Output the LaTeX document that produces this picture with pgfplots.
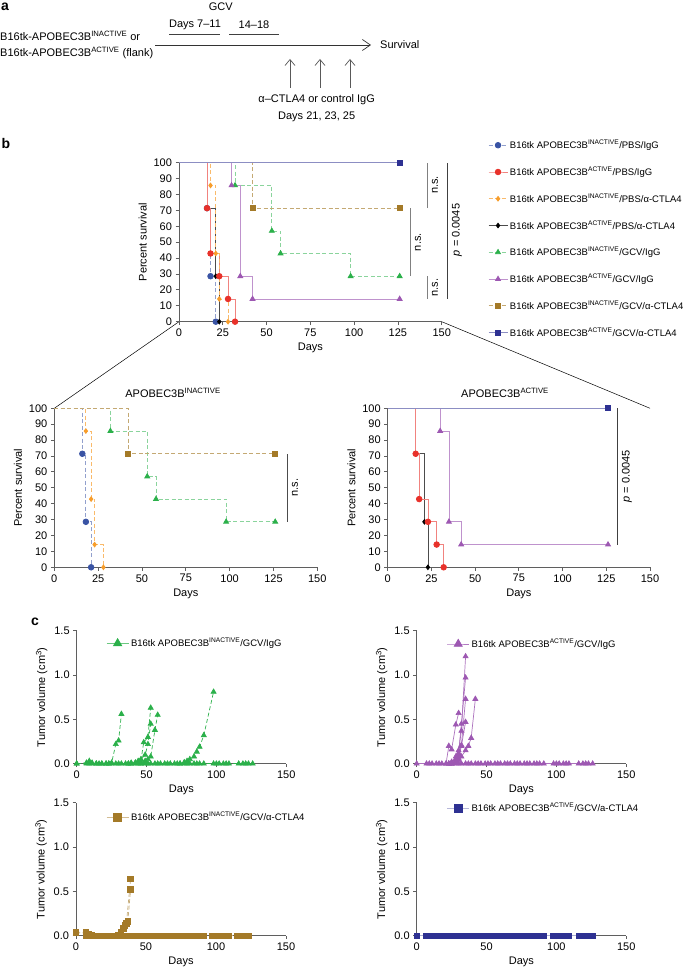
\documentclass[border=0pt]{standalone}
\usepackage{fontspec}
\setmainfont{Liberation Sans}
\usepackage{pgfplots}
\usepackage{pgfplotstable}
\pgfplotsset{compat=1.18}
\usetikzlibrary{arrows.meta}

\definecolor{cBlue}{RGB}{57,83,164}
\definecolor{cRed}{RGB}{232,49,42}
\definecolor{cOrange}{RGB}{247,157,43}
\definecolor{cGreen}{RGB}{43,176,74}
\definecolor{cPurple}{RGB}{157,88,178}
\definecolor{cBrown}{RGB}{164,122,40}
\definecolor{cNavy}{RGB}{46,49,146}
\definecolor{axgray}{RGB}{95,95,95}

\newcommand\fs[1]{\fontsize{#1}{#1}\selectfont}

\pgfplotsset{
  prism/.style={scale only axis, clip=false,
    axis x line*=bottom, axis y line*=left,
    axis line style={axgray, line width=0.8pt},
    every tick/.style={axgray, line width=0.8pt},
    tick align=outside, major tick length=3.5pt,
    tick label style={font=\fs{11}, text=black},
    label style={font=\fs{11}},
    /pgf/number format/assume math mode=true},
  km/.style={prism, height=159pt, xmin=0, xmax=150, ymin=0, ymax=100,
    xtick={0,25,...,150}, ytick={0,10,...,100},
    xlabel={Days}, ylabel={Percent survival}},
  tv/.style={prism, width=209.5pt, height=133pt, xmin=0, xmax=150, ymin=0, ymax=1.5,
    xtick={0,50,100,150}, ytick={0,0.5,1,1.5},
    yticklabel style={/pgf/number format/.cd, fixed, fixed zerofill, precision=1},
    xlabel={Days}, ylabel={Tumor volume (cm\textsuperscript{3})},
    legend style={draw=none, fill=none, inner sep=0pt, anchor=west, font=\fs{9.5}}},
  sA/.style={cBlue!55!white, line width=0.8pt, dash pattern=on 4pt off 2.5pt, mark=*, mark size=2.8pt, mark options={solid, fill=cBlue, draw=cBlue}},
  sB/.style={cRed!60!white, line width=0.8pt, mark=*, mark size=2.8pt, mark options={solid, fill=cRed, draw=cRed}},
  sC/.style={cOrange!70!white, line width=0.8pt, dash pattern=on 4pt off 2.5pt, mark=diamond*, mark size=2.3pt, mark options={solid, fill=cOrange, draw=cOrange}},
  sD/.style={black!70, line width=0.8pt, mark=diamond*, mark size=2.3pt, mark options={solid, fill=black, draw=black}},
  sE/.style={cGreen!55!white, line width=0.8pt, dash pattern=on 4pt off 2.5pt, mark=triangle*, mark size=2.8pt, mark options={solid, fill=cGreen, draw=cGreen}},
  sF/.style={cPurple!65!white, line width=0.8pt, mark=triangle*, mark size=2.8pt, mark options={solid, fill=cPurple, draw=cPurple}},
  sG/.style={cBrown!65!white, line width=0.8pt, dash pattern=on 4pt off 2.5pt, mark=square*, mark size=2.4pt, mark options={solid, fill=cBrown, draw=cBrown}},
  sH/.style={cNavy!55!white, line width=0.8pt, mark=square*, mark size=2.4pt, mark options={solid, fill=cNavy, draw=cNavy}},
  tG/.style={cGreen, line width=0.7pt, dash pattern=on 4pt off 2.5pt, mark=triangle*, mark size=2.9pt, mark options={solid, fill=cGreen, draw=cGreen}},
  tP/.style={cPurple!85!white, line width=0.7pt, mark=triangle*, mark size=2.9pt, mark options={solid, fill=cPurple, draw=cPurple}},
  tB/.style={cBrown!60!white, line width=0.7pt, dash pattern=on 4pt off 2.5pt, mark=square*, mark size=2.8pt, mark options={solid, fill=cBrown, draw=cBrown}},
  tN/.style={cNavy!40!white, line width=0.7pt, mark=square*, mark size=2.8pt, mark options={solid, fill=cNavy, draw=cNavy}},
}

% Kaplan-Meier curves (day, percent survival)
\pgfplotstableread[row sep=\\]{x y\\ 0 100\\ 16 71.4\\ 18 28.6\\ 21 0\\}\kmA
\pgfplotstableread[row sep=\\]{x y\\ 0 100\\ 16 71.4\\ 18 42.9\\ 23 28.6\\ 28 14.3\\ 32 0\\}\kmB
\pgfplotstableread[row sep=\\]{x y\\ 0 100\\ 18 85.7\\ 21 42.9\\ 23 14.3\\ 28 0\\}\kmC
\pgfplotstableread[row sep=\\]{x y\\ 0 100\\ 16 71.4\\ 21 28.6\\ 23 0\\}\kmD
\pgfplotstableread[row sep=\\]{x y\\ 0 100\\ 32 85.7\\ 53 57.1\\ 58 42.9\\ 98 28.6\\ 126 28.6\\}\kmE
\pgfplotstableread[row sep=\\]{x y\\ 0 100\\ 30 85.7\\ 35 28.6\\ 42 14.3\\ 126 14.3\\}\kmF
\pgfplotstableread[row sep=\\]{x y\\ 0 100\\ 42 71.4\\ 126 71.4\\}\kmG
\pgfplotstableread[row sep=\\]{x y\\ 0 100\\ 126 100\\}\kmH

% tumour volumes (day, cm^3)
\pgfplotstableread[row sep=\\]{x y\\ 0 0\\ 7 0\\ 9 0\\ 11 0\\ 14 0\\ 16 0\\ 18 0\\ 21 0\\ 23 0\\ 25 0\\ 28 0\\ 30 0\\ 32 0\\ 35 0\\ 37 0\\ 39 0\\ 42 0\\ 44 0\\ 46 0\\ 49 0\\ 51 0\\ 53 0\\ 56 0\\ 58 0\\ 60 0\\ 63 0\\ 65 0\\ 67 0\\ 70 0\\ 72 0\\ 74 0\\ 77 0\\ 79 0\\ 81 0\\ 84 0\\ 86 0\\ 88 0\\ 91 0\\ 98 0\\ 100 0\\ 102 0\\ 105 0\\ 107 0\\ 109 0\\ 116 0\\ 119 0\\ 121 0\\ 123 0\\ 126 0\\}\zeroL
\pgfplotstableread[row sep=\\]{x y\\ 7 0\\ 9 0\\ 11 0\\ 14 0\\ 16 0\\ 18 0\\ 21 0\\ 23 0\\ 25 0\\ 28 0\\ 30 0\\ 32 0\\ 35 0\\ 37 0\\ 39 0\\ 42 0\\ 44 0\\ 46 0\\ 49 0\\ 51 0\\ 53 0\\ 56 0\\ 58 0\\ 60 0\\ 63 0\\ 65 0\\ 67 0\\ 70 0\\ 72 0\\ 74 0\\ 77 0\\ 79 0\\ 81 0\\ 84 0\\ 86 0\\ 88 0\\ 91 0\\ 97 0\\ 100 0\\ 102 0\\ 105 0\\ 107 0\\ 109 0\\ 115 0\\ 118 0\\ 121 0\\ 123 0\\}\zeroS

\pgfplotstableread[row sep=\\]{x y\\ 0 0\\ 7 0.01\\ 9 0.03\\ 11 0.01\\ 14 0\\ 18 0\\ 21 0\\ 23 0\\ 25 0.01\\ 28 0.22\\ 30 0.26\\ 32 0.56\\}\gA
\pgfplotstableread[row sep=\\]{x y\\ 37 0\\ 39 0.01\\ 42 0.01\\ 44 0.02\\ 46 0.04\\ 48 0.24\\ 51 0.30\\ 53 0.63\\}\gB
\pgfplotstableread[row sep=\\]{x y\\ 39 0\\ 42 0.01\\ 44 0.03\\ 46 0.05\\ 49 0.10\\ 51 0.22\\ 53 0.45\\}\gC
\pgfplotstableread[row sep=\\]{x y\\ 46 0\\ 49 0.03\\ 51 0.05\\ 53 0.08\\ 56 0.38\\ 58 0.55\\}\gD
\pgfplotstableread[row sep=\\]{x y\\ 74 0\\ 77 0.015\\ 79 0.03\\ 81 0.05\\ 84 0.08\\ 86 0.135\\ 88 0.19\\ 91 0.32\\ 98 0.81\\}\gE

\pgfplotstableread[row sep=\\]{x y\\ 21 0\\ 23 0.20\\ 25 0.16\\ 28 0.44\\ 30 0.57\\}\pA
\pgfplotstableread[row sep=\\]{x y\\ 23 0\\ 25 0.02\\ 28 0.08\\ 30 0.15\\ 32 0.37\\ 35 1.21\\}\pB
\pgfplotstableread[row sep=\\]{x y\\ 23 0\\ 25 0.01\\ 28 0.05\\ 30 0.12\\ 32 0.45\\ 35 0.97\\}\pC
\pgfplotstableread[row sep=\\]{x y\\ 25 0\\ 28 0.03\\ 30 0.10\\ 32 0.21\\ 35 0.73\\}\pD
\pgfplotstableread[row sep=\\]{x y\\ 25 0\\ 28 0.02\\ 30 0.06\\ 32 0.20\\ 35 0.47\\}\pE
\pgfplotstableread[row sep=\\]{x y\\ 25 0\\ 28 0.02\\ 30 0.04\\ 32 0.08\\ 35 0.15\\ 37 0.20\\ 39 0.29\\ 42 0.73\\}\pF

\pgfplotstableread[row sep=\\]{x y\\ 0 0.04\\ 7 0.04\\ 9 0.02\\ 11 0.005\\ 14 0\\ 18 0\\ 23 0\\ 28 0\\ 30 0\\ 32 0.045\\ 34 0.08\\ 36 0.14\\ 39 0.64\\}\bA
\pgfplotstableread[row sep=\\]{x y\\ 0 0.03\\ 7 0.03\\ 9 0.01\\ 11 0\\ 28 0\\ 30 0.01\\ 32 0.03\\ 35 0.12\\ 37 0.16\\ 39 0.52\\}\bB

\newcommand\km[2]{%
  \addplot[#1, const plot, mark=none, forget plot] table {#2};
  \addplot[#1, only marks, forget plot, skip coords between index={0}{1}] table {#2};
}

\begin{document}
\begin{tikzpicture}[x=1pt, y=1pt, font=\fs{11}]
\path[use as bounding box] (0,0) rectangle (685,972);

% ---------------- panel a ----------------
\node[font=\bfseries\fs{14}, inner sep=0] at (5,965) {a};
\node[inner sep=0] at (220.7,965.3) {GCV};
\node[inner sep=0] at (195,947) {Days 7–11};
\node[inner sep=0] at (254,947) {14–18};
\draw[line width=0.7pt, black!75] (169,938) -- (220,938);
\draw[line width=0.7pt, black!75] (229,938) -- (279,938);
\node[anchor=west, inner sep=0] at (0,936) {B16tk-APOBEC3B\textsuperscript{INACTIVE} or};
\node[anchor=west, inner sep=0] at (0,918.7) {B16tk-APOBEC3B\textsuperscript{ACTIVE} (flank)};
\draw[line width=0.7pt, black!80, -{Straight Barb[length=8pt,width=11pt]}] (155,927) -- (371,927);
\node[anchor=west, inner sep=0] at (380,927) {Survival};
\foreach \ax in {290,320,350}
  \draw[line width=0.7pt, black!65, -{Straight Barb[length=6pt,width=10pt]}] (\ax,884) -- (\ax,913);
\node[inner sep=0] at (316.7,872) {α–CTLA4 or control IgG};
\node[inner sep=0] at (316.7,855.3) {Days 21, 23, 25};

% ---------------- panel b ----------------
\node[font=\bfseries\fs{14}, inner sep=0] at (6,828) {b};
\draw[line width=0.5pt] (179,650.3) -- (54.3,563.7);
\draw[line width=0.5pt] (441.7,650.3) -- (650,563.7);

\begin{axis}[km, width=262.7pt, at={(179pt,650.3pt)}, anchor=south west,
  legend style={draw=none, fill=none, inner sep=0pt, at={(1.176,1.155)}, anchor=north west,
    font=\fs{9.5}, row sep=12.8pt},
  legend cell align=left,
  legend image code/.code={\draw[mark repeat=2,mark phase=2,#1] plot coordinates {(0pt,0pt) (9.5pt,0pt) (19pt,0pt)};}]
\addlegendimage{sA}\addlegendentry{B16tk APOBEC3B\textsuperscript{INACTIVE}/PBS/IgG}
\addlegendimage{sB}\addlegendentry{B16tk APOBEC3B\textsuperscript{ACTIVE}/PBS/IgG}
\addlegendimage{sC}\addlegendentry{B16tk APOBEC3B\textsuperscript{INACTIVE}/PBS/α-CTLA4}
\addlegendimage{sD}\addlegendentry{B16tk APOBEC3B\textsuperscript{ACTIVE}/PBS/α-CTLA4}
\addlegendimage{sE}\addlegendentry{B16tk APOBEC3B\textsuperscript{INACTIVE}/GCV/IgG}
\addlegendimage{sF}\addlegendentry{B16tk APOBEC3B\textsuperscript{ACTIVE}/GCV/IgG}
\addlegendimage{sG}\addlegendentry{B16tk APOBEC3B\textsuperscript{INACTIVE}/GCV/α-CTLA4}
\addlegendimage{sH}\addlegendentry{B16tk APOBEC3B\textsuperscript{ACTIVE}/GCV/α-CTLA4}
\km{sA}{\kmA}
\km{sD}{\kmD}
\km{sB}{\kmB}
\km{sC}{\kmC}
\km{sE}{\kmE}
\km{sF}{\kmF}
\km{sG}{\kmG}
\km{sH}{\kmH}
\draw[gray, line width=0.8pt] (axis cs:141.6,71.4) -- (axis cs:141.6,100);
\node[rotate=90, inner sep=0] at (axis cs:146.2,86) {n.s.};
\draw[gray, line width=0.8pt] (axis cs:132.3,28.6) -- (axis cs:132.3,71.4);
\node[rotate=90, inner sep=0] at (axis cs:136.5,50) {n.s.};
\draw[gray, line width=0.8pt] (axis cs:141.6,14.3) -- (axis cs:141.6,28.6);
\node[rotate=90, inner sep=0] at (axis cs:146.2,21.4) {n.s.};
\draw[black!75, line width=0.8pt] (axis cs:153.2,14.3) -- (axis cs:153.2,100);
\node[rotate=90, inner sep=0] at (axis cs:158.7,57.7) {\textit{p} = 0.0045};
\end{axis}

\begin{axis}[km, width=263pt, at={(54.3pt,404.7pt)}, anchor=south west]
\km{sA}{\kmA}
\km{sC}{\kmC}
\km{sE}{\kmE}
\km{sG}{\kmG}
\node[inner sep=0] at (axis cs:67.7,109.6) {APOBEC3B\textsuperscript{INACTIVE}};
\draw[black!70, line width=0.8pt] (axis cs:132.9,28.6) -- (axis cs:132.9,71.4);
\node[rotate=90, inner sep=0] at (axis cs:137.3,50) {n.s.};
\end{axis}

\begin{axis}[km, width=262.3pt, at={(387.7pt,404.7pt)}, anchor=south west]
\km{sD}{\kmD}
\km{sB}{\kmB}
\km{sF}{\kmF}
\km{sH}{\kmH}
\node[inner sep=0] at (axis cs:67.1,109.6) {APOBEC3B\textsuperscript{ACTIVE}};
\draw[black!75, line width=0.8pt] (axis cs:131.3,14.3) -- (axis cs:131.3,100);
\node[rotate=90, inner sep=0] at (axis cs:136.8,57.2) {\textit{p} = 0.0045};
\end{axis}

% ---------------- panel c ----------------
\node[font=\bfseries\fs{14}, inner sep=0] at (35,350) {c};

\begin{axis}[tv, at={(76.7pt,208.3pt)}, anchor=south west,
  legend style={at={(0.14,0.905)}},
  legend image code/.code={\draw[mark repeat=2,mark phase=2,#1] plot coordinates {(0pt,0pt) (11pt,0pt) (22pt,0pt)};}]
\addlegendimage{cGreen!70!white, line width=0.8pt, mark=triangle*, mark size=4.6pt, mark options={fill=cGreen, draw=cGreen}}
\addlegendentry{B16tk APOBEC3B\textsuperscript{INACTIVE}/GCV/IgG}
\addplot[tG, forget plot] table {\zeroL};
\addplot[tG, forget plot] table {\gA};
\addplot[tG, forget plot] table {\gB};
\addplot[tG, forget plot] table {\gC};
\addplot[tG, forget plot] table {\gD};
\addplot[tG, forget plot] table {\gE};
\end{axis}

\begin{axis}[tv, at={(416.7pt,208.3pt)}, anchor=south west,
  legend style={at={(0.143,0.90)}},
  legend image code/.code={\draw[mark repeat=2,mark phase=2,#1] plot coordinates {(0pt,0pt) (11pt,0pt) (22pt,0pt)};}]
\addlegendimage{cPurple!80!white, line width=0.8pt, mark=triangle*, mark size=4.6pt, mark options={fill=cPurple, draw=cPurple}}
\addlegendentry{B16tk APOBEC3B\textsuperscript{ACTIVE}/GCV/IgG}
\addplot[tP, forget plot] table {\zeroL};
\addplot[tP, forget plot] table {\pA};
\addplot[tP, forget plot] table {\pB};
\addplot[tP, forget plot] table {\pC};
\addplot[tP, forget plot] table {\pD};
\addplot[tP, forget plot] table {\pE};
\addplot[tP, forget plot] table {\pF};
\end{axis}

\begin{axis}[tv, width=210pt, at={(76pt,36.3pt)}, anchor=south west,
  legend style={at={(0.143,0.89)}},
  legend image code/.code={\draw[mark repeat=2,mark phase=2,#1] plot coordinates {(0pt,0pt) (11pt,0pt) (22pt,0pt)};}]
\addlegendimage{cBrown!50!white, line width=0.8pt, mark=square*, mark size=4pt, mark options={fill=cBrown, draw=cBrown}}
\addlegendentry{B16tk APOBEC3B\textsuperscript{INACTIVE}/GCV/α-CTLA4}
\addplot[tB, forget plot] table {\zeroS};
\addplot[tB, forget plot] table {\bA};
\addplot[tB, forget plot] table {\bB};
\end{axis}

\begin{axis}[tv, at={(416.7pt,36.3pt)}, anchor=south west,
  legend style={at={(0.143,0.958)}},
  legend image code/.code={\draw[mark repeat=2,mark phase=2,#1] plot coordinates {(0pt,0pt) (11pt,0pt) (22pt,0pt)};}]
\addlegendimage{cNavy!35!white, line width=0.8pt, mark=square*, mark size=4pt, mark options={fill=cNavy, draw=cNavy}}
\addlegendentry{B16tk APOBEC3B\textsuperscript{ACTIVE}/GCV/a-CTLA4}
\addplot[tN, forget plot] table {\zeroL};
\end{axis}
\end{tikzpicture}
\end{document}
